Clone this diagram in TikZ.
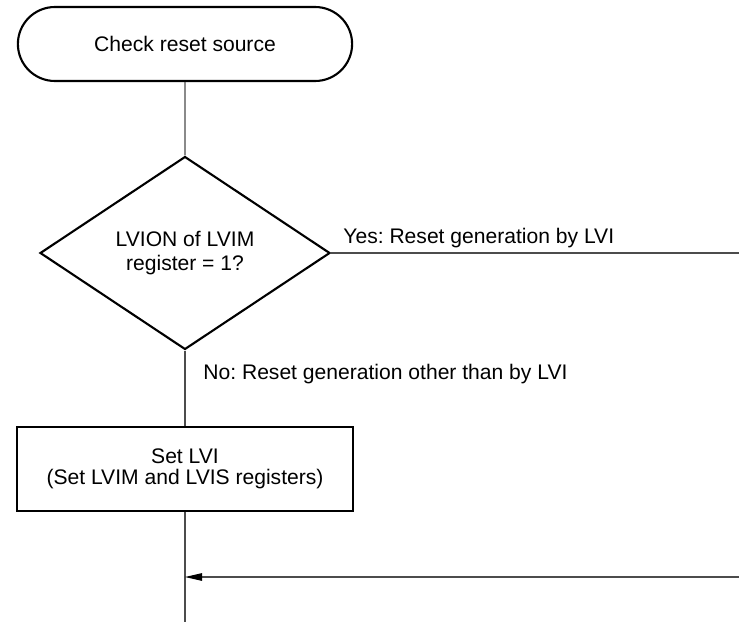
\documentclass[tikz,border=0pt]{standalone}
\usepackage{fontspec}
\setmainfont{Liberation Sans}
\frenchspacing
\usetikzlibrary{arrows.meta, shapes.geometric, shapes.misc}

\begin{document}
\begin{tikzpicture}[x=0.02cm, y=-0.02cm, >={Triangle[length=0.34cm, width=0.15cm, color=black]},
    every node/.style={font=\fontsize{12}{14}\selectfont},
    linea/.style={draw=black!70, line width=0.6pt},
    caja/.style={draw, line width=1.2pt, align=center}]
        % Marco de la figura
        \useasboundingbox (0,0) rectangle (739,622);

        % Inicio: comprobar la fuente del reset
        \node[caja, rounded rectangle, minimum width=6.92cm, minimum height=1.48cm] (Chk) at (185,44) {Check reset source};

        % Decisión sobre LVION
        \node[caja, diamond, inner sep=0pt, minimum width=5.8cm, minimum height=3.86cm] (Dec) at (185,253) {LVION of LVIM\\register = 1?};

        % Ajuste del LVI
        \node[caja, minimum width=6.72cm, minimum height=1.68cm, font=\fontsize{12}{12}\selectfont] (Set) at (185,469) {Set LVI\\(Set LVIM and LVIS registers)};

        % Extremos libres de las líneas
        \coordinate (yesEnd) at (739,253);
        \coordinate (retEnd) at (739,577);
        \coordinate (ret) at (Set.south |- retEnd);
        \coordinate (fin) at (185,622);

        % Flujo principal
        \draw[linea] (Chk) -- (Dec);
        \draw[linea] (Dec.east) -- (yesEnd) node[pos=0, anchor=base west, xshift=0.12cm, yshift=0.2cm] {Yes: Reset generation by LVI};
        \draw[linea] (Dec.south) -- (Set.north) node[midway, anchor=base west, xshift=0.24cm, yshift=0.18cm] {No: Reset generation other than by LVI};
        \draw[linea] (Set.south) -- (fin);

        % Retorno desde la rama Yes
        \draw[linea, ->] (retEnd) -- (ret);

    \end{tikzpicture}
\end{document}
